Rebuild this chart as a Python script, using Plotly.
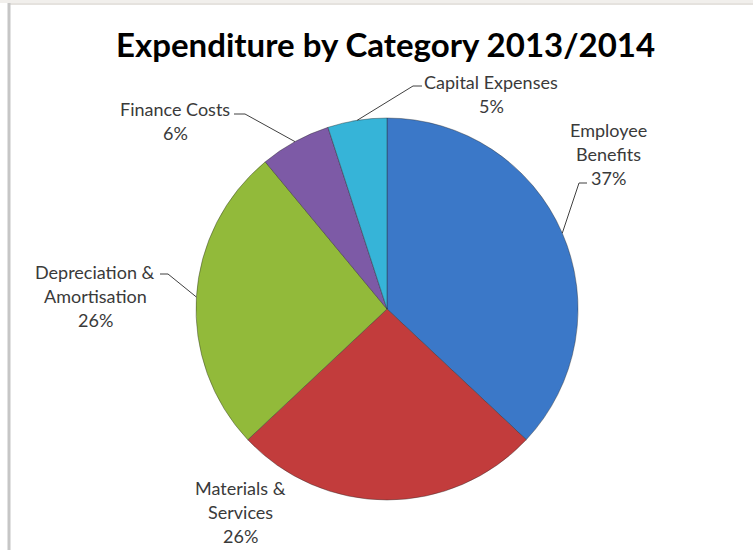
import math
import plotly.graph_objects as go

# Expenditure shares (percent), clockwise from 12 o'clock
categories = ["Employee Benefits", "Materials & Services", "Depreciation & Amortisation",
              "Finance Costs", "Capital Expenses"]
label_lines = [["Employee", "Benefits"], ["Materials &", "Services"],
               ["Depreciation &", "Amortisation"], ["Finance Costs"], ["Capital Expenses"]]
shares = [37, 26, 26, 6, 5]
colors = ["#3b78c8", "#c23c3c", "#92ba3a", "#7d5aa6", "#36b4d8"]

W, H = 753, 550
CX, CY, R = 387, 309, 191          # pie centre / radius in pixels

# label block centre (px) and leader elbow/end points (px); None = no leader
label_centre = [(608, 130), (240, 488), (95, 272), (175, 109), (491, 82)]
leader_elbow = [((579, 183), (587, 183)), None, ((168, 274), (160, 274)),
                ((245, 114), (234, 114)), ((413, 86), (422, 86))]
LINE_GAP = 24

def px(x):
    return x / W

def py(y):
    return 1 - y / H

FONT = "Lato, 'Open Sans', sans-serif"

fig = go.Figure(go.Pie(
    labels=categories, values=shares, sort=False, direction="clockwise", rotation=0,
    marker=dict(colors=colors, line=dict(color="rgba(40,40,40,0.4)", width=1)),
    textinfo="none", hoverinfo="label+percent", showlegend=False,
    domain=dict(x=[px(CX - R), px(CX + R)], y=[py(CY + R), py(CY - R)]),
))

annotations = []
shapes = []
total = sum(shares)
cum = 0
for i, v in enumerate(shares):
    mid = (cum + v / 2) / total * 2 * math.pi
    cum += v
    ex = CX + R * math.sin(mid)
    ey = CY - R * math.cos(mid)
    lines = label_lines[i] + [f"{round(v / total * 100)}%"]
    lx, ly = label_centre[i]
    for k, t in enumerate(lines):
        annotations.append(dict(
            x=px(lx), y=py(ly + k * LINE_GAP), xref="paper", yref="paper",
            text=t, showarrow=False, xanchor="center", yanchor="middle",
            font=dict(family=FONT, size=18, color="#3a3a3a"),
        ))
    if leader_elbow[i] is not None:
        (bx, by), (tx, ty) = leader_elbow[i]
        path = f"M {px(ex)} {py(ey)} L {px(bx)} {py(by)} L {px(tx)} {py(ty)}"
        shapes.append(dict(type="path", path=path, xref="paper", yref="paper",
                           line=dict(color="#404040", width=1)))

# chart frame edges
shapes += [
    dict(type="rect", xref="paper", yref="paper", x0=0, x1=1, y0=py(3), y1=1,
         fillcolor="#f1efec", line=dict(width=0), layer="below"),
    dict(type="line", xref="paper", yref="paper", x0=px(9), x1=1, y0=py(4), y1=py(4),
         line=dict(color="#dcd8d3", width=1.5)),
    dict(type="line", xref="paper", yref="paper", x0=px(9), x1=px(9), y0=0, y1=py(3),
         line=dict(color="#c6c6c6", width=3)),
]

annotations.append(dict(
    x=px(385), y=py(44), xref="paper", yref="paper", showarrow=False,
    text="<b>Expenditure by Category 2013/2014</b>", xanchor="center", yanchor="middle",
    font=dict(family=FONT, size=33, color="#000000"),
))

fig.update_layout(
    width=W, height=H, margin=dict(l=0, r=0, t=0, b=0),
    paper_bgcolor="white", plot_bgcolor="white",
    annotations=annotations, shapes=shapes,
)

fig.write_html("out.html")
